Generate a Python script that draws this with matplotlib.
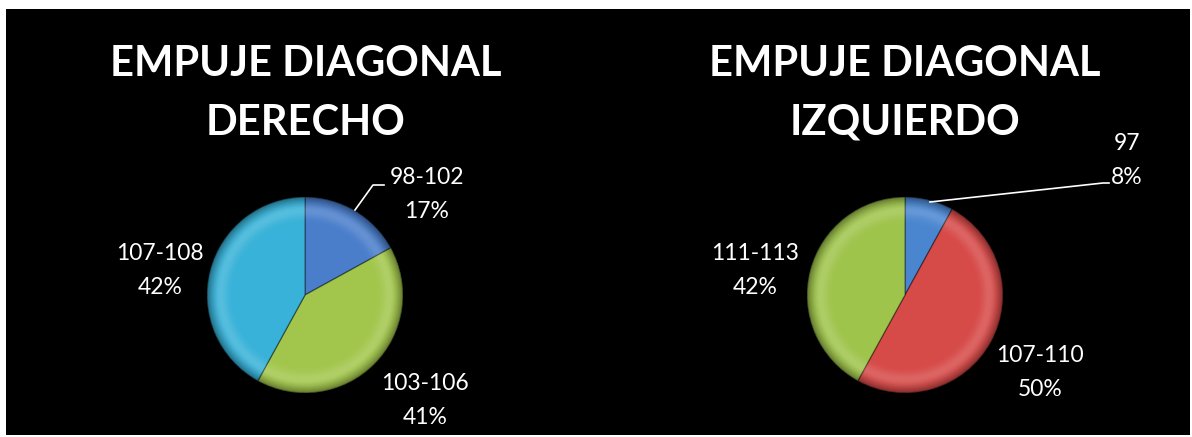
import numpy as np
import matplotlib.pyplot as plt
from matplotlib.patches import Rectangle, Circle

plt.rcParams['font.family'] = ['Lato', 'DejaVu Sans']

# Data
left_title = ["EMPUJE DIAGONAL", "DERECHO"]
left_labels = ["98-102", "103-106", "107-108"]
left_values = [17, 41, 42]
left_colors = ["#4a7ecb", "#a2c64c", "#38b2d8"]

right_title = ["EMPUJE DIAGONAL", "IZQUIERDO"]
right_labels = ["97", "107-110", "111-113"]
right_values = [8, 50, 42]
right_colors = ["#4a86d0", "#d64a48", "#9fc44c"]

W, H = 1192, 437
fig = plt.figure(figsize=(W / 100, H / 100), dpi=100, facecolor="white")
fig.patches.append(Rectangle((6 / W, 2 / H), (W - 8) / W, (H - 11) / H,
                             transform=fig.transFigure, facecolor="black",
                             edgecolor="none", zorder=-1))

ax = fig.add_axes([0, 0, 1, 1])
ax.set_xlim(0, W)
ax.set_ylim(0, H)
ax.set_aspect("equal")
ax.axis("off")
ax.patch.set_alpha(0)


def bevel(ax, cx, cy, r):
    # soft bevel shading: dark rim plus a faint light ring inside it
    n = 400
    xs = np.linspace(-1, 1, n)
    X, Y = np.meshgrid(xs, xs)
    R = np.sqrt(X ** 2 + Y ** 2)
    dark = np.clip((R - 0.88) / 0.12, 0, 1) ** 1.6 * 0.38
    ring = np.exp(-((R - 0.86) / 0.07) ** 2) * 0.15
    img = np.zeros((n, n, 4))
    img[..., 3] = dark
    im1 = ax.imshow(img, extent=(cx - r, cx + r, cy - r, cy + r),
                    origin="lower", zorder=3, interpolation="bilinear")
    img2 = np.ones((n, n, 4))
    img2[..., 3] = ring * (R <= 1)
    im2 = ax.imshow(img2, extent=(cx - r, cx + r, cy - r, cy + r),
                    origin="lower", zorder=3, interpolation="bilinear")
    for im in (im1, im2):
        clip = Circle((cx, cy), r, transform=ax.transData)
        im.set_clip_path(clip)


def draw_pie(cx, cy, r, values, colors):
    wedges, _ = ax.pie(values, colors=colors, startangle=90,
                       counterclock=False, center=(cx, cy), radius=r,
                       wedgeprops=dict(edgecolor=(0, 0, 0, 0.35), linewidth=1.0))
    for w in wedges:
        w.set_zorder(2)
    bevel(ax, cx, cy, r)
    ax.set_xlim(0, W)
    ax.set_ylim(0, H)
    ax.set_aspect("equal")


def title(x, lines):
    for line, base in zip(lines, (76, 135)):
        ax.text(x, H - base, line, color="white", fontsize=30,
                fontweight="bold", ha="center", va="baseline")


def label(x, yc, name, pct):
    ax.text(x, H - (yc - 17), name, color="white", fontsize=16.5,
            ha="center", va="center")
    ax.text(x, H - (yc + 17), f"{pct}%", color="white", fontsize=16.5,
            ha="center", va="center")


# Left pie
draw_pie(305, H - 295, 98, left_values, left_colors)
title(306, left_title)
label(427, 195, left_labels[0], left_values[0])
label(425, 400, left_labels[1], left_values[1])
label(160, 270, left_labels[2], left_values[2])
ax.plot([355, 373, 384], [H - 210, H - 185, H - 185], color="white", lw=1.2,
        zorder=4)

# Right pie
draw_pie(905, H - 295, 98, right_values, right_colors)
title(905, right_title)
label(1127, 160, right_labels[0], right_values[0])
label(1040, 373, right_labels[1], right_values[1])
label(755, 270, right_labels[2], right_values[2])
ax.plot([930, 1103, 1109], [H - 202, H - 183, H - 183], color="white", lw=1.2,
        zorder=4)

fig.savefig("out.png", dpi=100, facecolor=fig.get_facecolor())
